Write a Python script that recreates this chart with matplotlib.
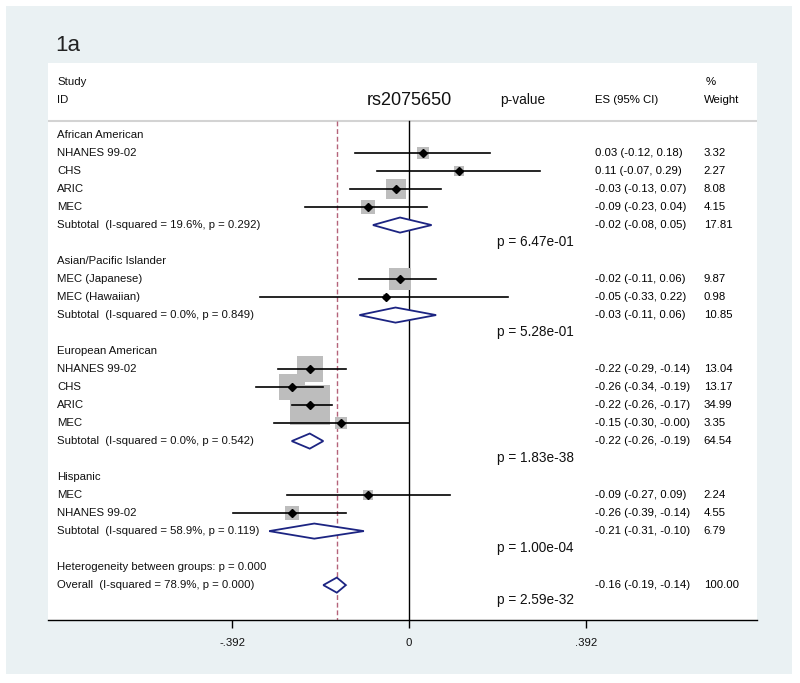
import matplotlib.pyplot as plt
from matplotlib.patches import Rectangle, Polygon

plt.rcParams['font.family'] = ['Liberation Sans', 'DejaVu Sans']

# 各研究的数据 (ES, 95% CI, 权重)
groups = ['African American', 'Asian/Pacific Islander', 'European American', 'Hispanic']
study_group = [0, 0, 0, 0, 1, 1, 2, 2, 2, 2, 3, 3]
studies = ['NHANES 99-02', 'CHS', 'ARIC', 'MEC',
           'MEC (Japanese)', 'MEC (Hawaiian)',
           'NHANES 99-02', 'CHS', 'ARIC', 'MEC',
           'MEC', 'NHANES 99-02']
study_es = [0.03, 0.11, -0.03, -0.09, -0.02, -0.05, -0.22, -0.26, -0.22, -0.15, -0.09, -0.26]
study_lo = [-0.12, -0.07, -0.13, -0.23, -0.11, -0.33, -0.29, -0.34, -0.26, -0.30, -0.27, -0.39]
study_hi = [0.18, 0.29, 0.07, 0.04, 0.06, 0.22, -0.14, -0.19, -0.17, -0.00, 0.09, -0.14]
study_weight = [3.32, 2.27, 8.08, 4.15, 9.87, 0.98, 13.04, 13.17, 34.99, 3.35, 2.24, 4.55]

# 亚组合并结果
group_es = [-0.02, -0.03, -0.22, -0.21]
group_lo = [-0.08, -0.11, -0.26, -0.31]
group_hi = [0.05, 0.06, -0.19, -0.10]
group_weight = [17.81, 10.85, 64.54, 6.79]
group_i2 = ['19.6%', '0.0%', '0.0%', '58.9%']
group_phet = ['0.292', '0.849', '0.542', '0.119']
group_p = ['6.47e-01', '5.28e-01', '1.83e-38', '1.00e-04']

# 总体结果
overall_es, overall_lo, overall_hi, overall_weight = -0.16, -0.19, -0.14, 100.00
overall_i2, overall_phet = '78.9%', '0.000'
overall_p = '2.59e-32'
between_p = '0.000'

ticks = [-0.392, 0, 0.392]
tick_labels = ['-.392', '0', '.392']

fig = plt.figure(figsize=(8, 6.83), dpi=100)
fig.patches.append(Rectangle((0.0075, 0.0132), 0.9825, 0.978, transform=fig.transFigure,
                             facecolor='#EAF1F3', edgecolor='none', zorder=-5))
fig.text(0.069, 0.934, '1a', fontsize=16, va='center', ha='left', color='#222222')

ax = fig.add_axes([0.06, 0.0922, 0.88625, 0.8155])
ax.set_facecolor('white')

y_top, y_bot = -4.0, 26.94
ax.set_xlim(-0.80, 0.771)
ax.set_ylim(y_bot, y_top)

lab_x = -0.78
p_x = 0.196
es_x = 0.412
w_x = 0.653
fs = 8.2
txt_col = '#111111'
navy = '#1C2482'


def es_text(e, lo, hi):
    return f'{e:.2f} ({lo:.2f}, {hi:.2f})'


def diamond(e, lo, hi, y, h=0.42):
    ax.add_patch(Polygon([(lo, y), (e, y - h), (hi, y), (e, y + h)], closed=True,
                         facecolor='white', edgecolor=navy, lw=1.3, zorder=4))


row = 0
for g, name in enumerate(groups):
    ax.text(lab_x, row, name, fontsize=fs, va='center', color=txt_col)
    row += 1
    for i in [k for k, sg in enumerate(study_group) if sg == g]:
        ax.text(lab_x, row, studies[i], fontsize=fs, va='center', color=txt_col)
        ax.scatter(study_es[i], row, s=24.9 * study_weight[i], marker='s',
                   color='#BDBDBD', linewidths=0, zorder=2)
        ax.plot([study_lo[i], study_hi[i]], [row, row], color='black', lw=1.2, zorder=3)
        ax.plot(study_es[i], row, marker='D', color='black', markersize=4, zorder=5)
        ax.text(es_x, row, es_text(study_es[i], study_lo[i], study_hi[i]),
                fontsize=fs, va='center', color='black')
        ax.text(w_x, row, f'{study_weight[i]:.2f}', fontsize=fs, va='center', color='black')
        row += 1
    ax.text(lab_x, row, f'Subtotal  (I-squared = {group_i2[g]}, p = {group_phet[g]})',
            fontsize=fs, va='center', color=txt_col)
    diamond(group_es[g], group_lo[g], group_hi[g], row)
    ax.text(es_x, row, es_text(group_es[g], group_lo[g], group_hi[g]),
            fontsize=fs, va='center', color='black')
    ax.text(w_x, row, f'{group_weight[g]:.2f}', fontsize=fs, va='center', color='black')
    ax.text(p_x, row + 0.93, f'p = {group_p[g]}', fontsize=9.8, va='center', color=txt_col)
    row += 2

ax.text(lab_x, row, f'Heterogeneity between groups: p = {between_p}',
        fontsize=fs, va='center', color=txt_col)
row += 1
ax.text(lab_x, row, f'Overall  (I-squared = {overall_i2}, p = {overall_phet})',
        fontsize=fs, va='center', color=txt_col)
diamond(overall_es, overall_lo, overall_hi, row)
ax.text(es_x, row, es_text(overall_es, overall_lo, overall_hi),
        fontsize=fs, va='center', color='black')
ax.text(w_x, row, f'{overall_weight:.2f}', fontsize=fs, va='center', color='black')
ax.text(p_x, row + 0.85, f'p = {overall_p}', fontsize=9.8, va='center', color=txt_col)

# 表头
head_y = -0.78
ax.axhline(head_y, color='#D3D3D3', lw=1.5, zorder=1)
ax.text(lab_x, -2.94, 'Study', fontsize=fs, va='center', color=txt_col)
ax.text(lab_x, -1.94, 'ID', fontsize=fs, va='center', color=txt_col)
ax.text(0.0, -1.94, 'rs2075650', fontsize=13, va='center', ha='center', color='#111111')
ax.text(p_x + 0.006, -1.94, 'p-value', fontsize=9.8, va='center', color=txt_col)
ax.text(es_x, -1.94, 'ES (95% CI)', fontsize=fs, va='center', color='black')
ax.text(w_x + 0.004, -2.94, '%', fontsize=fs, va='center', color='black')
ax.text(w_x, -1.94, 'Weight', fontsize=fs, va='center', color='black')

# 参考线
ax.plot([0, 0], [head_y, y_bot], color='black', lw=1.0, zorder=1)
ax.plot([overall_es, overall_es], [head_y, y_bot], color='#B5637A', lw=1.0,
        dashes=(3.5, 2), zorder=1)

for s in ['top', 'left', 'right']:
    ax.spines[s].set_visible(False)
ax.spines['bottom'].set_color('black')
ax.spines['bottom'].set_linewidth(1.0)
ax.set_yticks([])
ax.set_xticks(ticks)
ax.set_xticklabels(tick_labels, fontsize=fs, color='#111111')
ax.tick_params(axis='x', direction='out', length=5.8, width=1.0, pad=7)

plt.savefig('out.png', dpi=100, facecolor='white')
